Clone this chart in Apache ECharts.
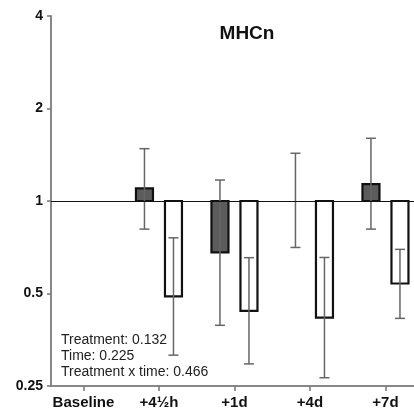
<!DOCTYPE html>
<html><head><meta charset="utf-8">
<script src="https://cdn.jsdelivr.net/npm/echarts@6/dist/echarts.min.js"></script>
<style>html,body{margin:0;padding:0;background:#fff}#c{width:414px;height:415px}</style>
</head><body><div id="c"></div>
<script>
var categories = ['Baseline', '+4\u00bdh', '+1d', '+4d', '+7d'];
var yTicks = [0.25, 0.5, 1, 2, 4];
// dark (grey) bars: [categoryIndex, mean, lower, upper]
var darkIdx = [1, 2, 3, 4];
var darkMean = [1.10, 0.68, 1.0, 1.135];
var darkLow = [0.81, 0.394, 0.706, 0.81];
var darkHigh = [1.48, 1.17, 1.43, 1.60];
// white bars
var whiteIdx = [1, 2, 3, 4];
var whiteMean = [0.489, 0.439, 0.417, 0.539];
var whiteLow = [0.315, 0.295, 0.266, 0.415];
var whiteHigh = [0.759, 0.654, 0.655, 0.696];
var stats = ['Treatment: 0.132', 'Time: 0.225', 'Treatment x time: 0.466'];

var FONT = '"Liberation Sans", Arial, sans-serif';
function build(idx, mean, lo, hi, grp) {
  return idx.map(function (c, i) { return [c, mean[i], lo[i], hi[i], grp]; });
}
var data = build(darkIdx, darkMean, darkLow, darkHigh, 0).concat(build(whiteIdx, whiteMean, whiteLow, whiteHigh, 1));

function renderBar(params, api) {
  var c = api.value(0), m = api.value(1), grp = api.value(4);
  var off = grp === 0 ? -14.5 : 14.5;
  var base = api.coord([c, 1]);
  var top = api.coord([c, m]);
  var x = base[0] + off;
  var y0 = Math.min(base[1], top[1]), h = Math.abs(base[1] - top[1]);
  if (h < 1) return null;
  return {
    type: 'rect',
    shape: { x: x - 8.5, y: y0, width: 17, height: h },
    style: { fill: grp === 0 ? '#5c5c5c' : '#ffffff', stroke: '#111', lineWidth: 2.2 }
  };
}
function renderErr(params, api) {
  var c = api.value(0), grp = api.value(4);
  var off = grp === 0 ? -14.5 : 14.5;
  var lo = api.coord([c, api.value(2)]);
  var hi = api.coord([c, api.value(3)]);
  var x = lo[0] + off;
  var st = { stroke: '#666', lineWidth: 1.5 };
  return {
    type: 'group',
    children: [
      { type: 'line', shape: { x1: x, y1: lo[1], x2: x, y2: hi[1] }, style: st },
      { type: 'line', shape: { x1: x - 5, y1: lo[1], x2: x + 5, y2: lo[1] }, style: st },
      { type: 'line', shape: { x1: x - 5, y1: hi[1], x2: x + 5, y2: hi[1] }, style: st }
    ]
  };
}

var chart = echarts.init(document.getElementById('c'), null, { renderer: 'canvas' });
chart.setOption({
  animation: false,
  backgroundColor: '#fff',
  title: {
    text: 'MHCn', left: 242, top: 19, textAlign: 'center',
    textStyle: { fontFamily: FONT, fontWeight: 'bold', fontSize: 19, color: '#111' }
  },
  grid: { left: 51, right: 0, top: 16, bottom: 29 },
  xAxis: {
    type: 'value', min: -0.43, max: 4.378,
    splitLine: { show: false },
    axisLine: { show: true, onZero: false, lineStyle: { color: '#888', width: 2 } },
    axisTick: { show: true, customValues: [0, 1, 2, 3, 4], length: 5, lineStyle: { color: '#777', width: 1.5 } },
    axisLabel: {
      customValues: [0, 1, 2, 3, 4], margin: 9,
      formatter: function (v) { return categories[Math.round(v)]; },
      fontFamily: FONT, fontWeight: 'bold', fontSize: 15, color: '#111'
    }
  },
  yAxis: {
    type: 'log', logBase: 2, min: 0.25, max: 4, interval: 1,
    splitLine: { show: false },
    axisLine: { show: true, onZero: false, lineStyle: { color: '#888', width: 2 } },
    axisTick: { show: true, length: 4, lineStyle: { color: '#777', width: 1.5 } },
    axisLabel: {
      margin: 8, fontFamily: FONT, fontWeight: 'bold', fontSize: 14, color: '#111',
      formatter: function (v) { var r = yTicks.find(function (t) { return Math.abs(t - v) < 1e-6; }); return r === undefined ? '' : String(r); }
    }
  },
  series: [
    {
      type: 'custom', renderItem: renderBar, data: data, z: 3,
      markLine: {
        silent: true, symbol: ['none', 'none'], label: { show: false },
        lineStyle: { color: '#111', width: 1, type: 'solid' },
        data: [{ yAxis: 1 }]
      }
    },
    { type: 'custom', renderItem: renderErr, data: data, z: 4 }
  ],
  graphic: stats.map(function (s, i) {
    return {
      type: 'text', left: 61, top: 333 + i * 16,
      style: { text: s, fontFamily: FONT, fontSize: 14, fill: '#222' }
    };
  })
});
</script></body></html>
